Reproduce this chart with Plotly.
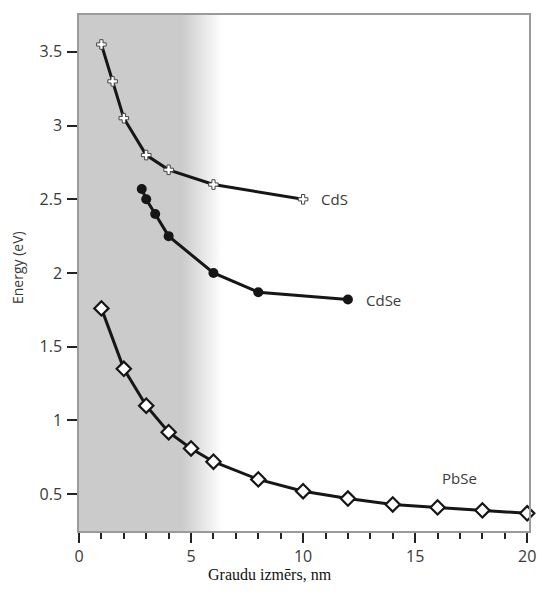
import plotly.graph_objects as go

# Band-gap energy vs. grain size for three semiconductor nanocrystals
cds_size = [1, 1.5, 2, 3, 4, 6, 10]
cds_energy = [3.55, 3.30, 3.05, 2.80, 2.70, 2.60, 2.50]

cdse_size = [2.8, 3.0, 3.4, 4, 6, 8, 12]
cdse_energy = [2.57, 2.50, 2.40, 2.25, 2.00, 1.87, 1.82]

pbse_size = [1, 2, 3, 4, 5, 6, 8, 10, 12, 14, 16, 18, 20]
pbse_energy = [1.76, 1.35, 1.10, 0.92, 0.81, 0.72, 0.60, 0.52, 0.47, 0.43, 0.41, 0.39, 0.37]

series_labels = ["CdS", "CdSe", "PbSe"]
label_pos = [(10.7, 2.50), (12.7, 1.82), (16.1, 0.61)]

x_range = [0, 20.08]
y_range = [0.25, 3.75]

# quantum-confinement region: solid grey fading to white
shade_solid_end = 4.6
shade_fade_end = 6.4

LINE = "#161616"
TEXT = "#3a3a3a"
FRAME = "#9a9a9a"
GREY = "#cbcbcb"

W, H = 537, 602
ML, MR, MT, MB = 79, 8, 15, 71
pw, ph = W - ML - MR, H - MT - MB

fig = go.Figure()

fig.add_trace(go.Scatter(
    x=[0, shade_fade_end, shade_fade_end, 0, 0],
    y=[y_range[0], y_range[0], y_range[1], y_range[1], y_range[0]],
    mode="lines", line=dict(width=0), fill="toself",
    fillgradient=dict(
        type="horizontal", start=0, stop=shade_fade_end,
        colorscale=[[0, GREY], [shade_solid_end / shade_fade_end, GREY], [1, "rgba(255,255,255,1)"]],
    ),
    hoverinfo="skip", showlegend=False,
))

fig.add_trace(go.Scatter(
    x=cds_size, y=cds_energy, mode="lines+markers", name="CdS",
    line=dict(color=LINE, width=3),
    marker=dict(symbol="cross", size=8, color="white", line=dict(color="#444", width=1)),
    showlegend=False,
))
fig.add_trace(go.Scatter(
    x=cdse_size, y=cdse_energy, mode="lines+markers", name="CdSe",
    line=dict(color=LINE, width=3),
    marker=dict(symbol="circle", size=10, color=LINE),
    showlegend=False,
))
fig.add_trace(go.Scatter(
    x=pbse_size, y=pbse_energy, mode="lines+markers", name="PbSe",
    line=dict(color=LINE, width=3),
    marker=dict(symbol="diamond", size=11, color="white", line=dict(color=LINE, width=2.2)),
    cliponaxis=False, showlegend=False,
))

for text, (lx, ly) in zip(series_labels, label_pos):
    fig.add_annotation(x=lx, y=ly, text=text, showarrow=False, xanchor="left",
                       yanchor="middle", font=dict(family="Open Sans", size=15, color=TEXT))


def px_to_paper(px, py):
    return (px - ML) / pw, (H - MB - py) / ph


ex, ey = px_to_paper(17, 268)
fig.add_annotation(x=ex, y=ey, xref="paper", yref="paper", text="Energy (eV)",
                   showarrow=False, textangle=-90, xanchor="center", yanchor="middle",
                   font=dict(family="Open Sans", size=14, color=TEXT))
gx, gy = px_to_paper(270, 574)
fig.add_annotation(x=gx, y=gy, xref="paper", yref="paper", text="Graudu izmērs, nm",
                   showarrow=False, xanchor="center", yanchor="middle",
                   font=dict(family="Liberation Serif", size=16, color="#111"))

fig.update_layout(
    width=W, height=H,
    margin=dict(l=ML, r=MR, t=MT, b=MB, pad=0),
    plot_bgcolor="white", paper_bgcolor="white",
    font=dict(family="Open Sans", size=16, color=TEXT),
    xaxis=dict(
        range=x_range, tickvals=[0, 5, 10, 15, 20], ticks="outside", ticklen=10, tickwidth=2,
        tickcolor="#222", showgrid=False, zeroline=False, automargin=False,
        showline=True, linecolor=FRAME, linewidth=1.5, mirror=True,
        minor=dict(dtick=1, ticks="outside", ticklen=6, tickwidth=2, tickcolor="#222", showgrid=False),
        tickfont=dict(family="Open Sans", size=16, color=TEXT),
    ),
    yaxis=dict(
        range=y_range, tickvals=[0.5, 1, 1.5, 2, 2.5, 3, 3.5], ticks="outside", ticklen=10,
        tickwidth=2, tickcolor="#222", showgrid=False, zeroline=False, automargin=False,
        showline=True, linecolor=FRAME, linewidth=1.5, mirror=True,
        ticklabelstandoff=2,
        tickfont=dict(family="Open Sans", size=16, color=TEXT),
    ),
)

fig.write_html("out.html")
